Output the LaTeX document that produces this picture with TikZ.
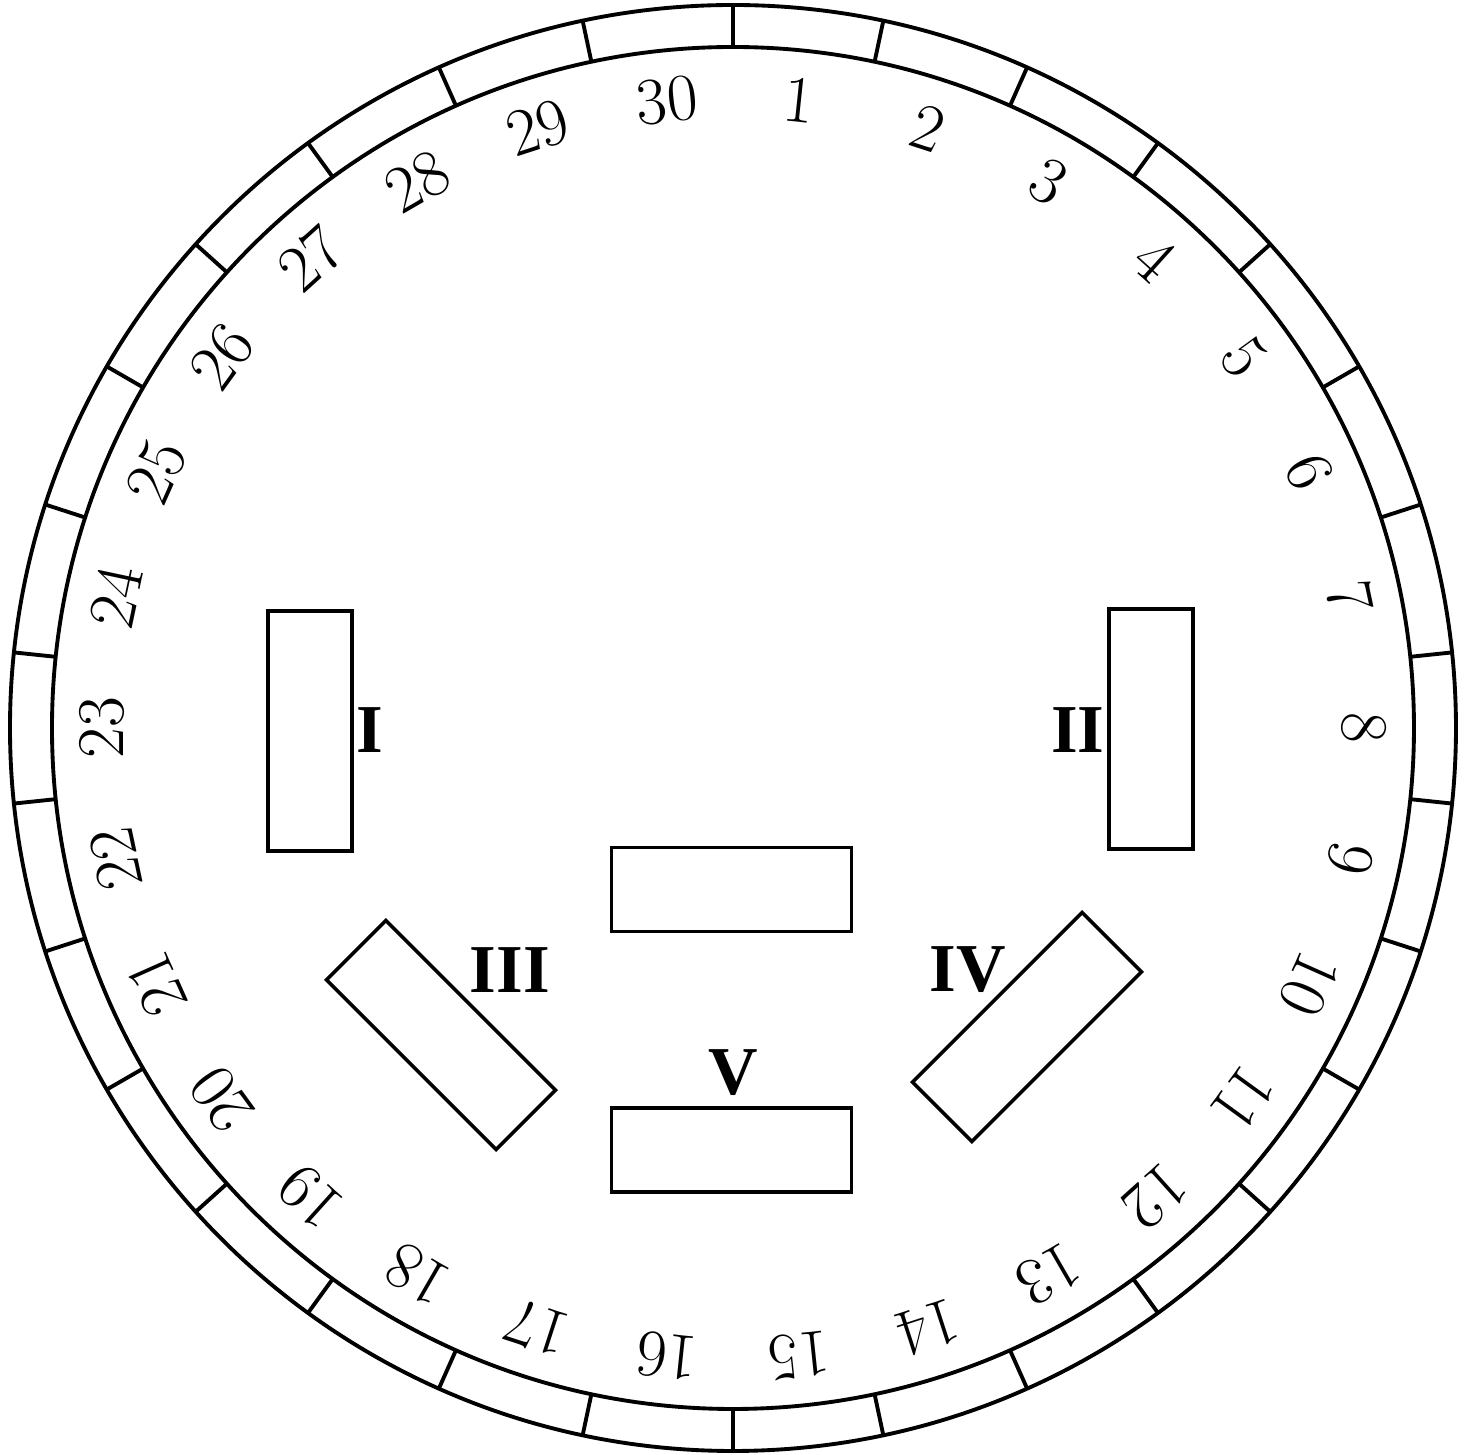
\documentclass[tikz,border=0pt]{standalone}
\usepackage{fontspec}
\newfontfamily\labelfont{Liberation Serif}
\usetikzlibrary{positioning}
\tikzset{
  coil/.style={draw,line width=1pt,minimum width=2.4cm,minimum height=0.84cm,inner sep=0pt},
  numlabel/.style={font=\fontsize{19}{22}\selectfont,inner sep=0pt},
  poslabel/.style={font=\labelfont\fontsize{19.5}{23}\selectfont\bfseries,inner sep=0pt}
}
\begin{document}
\begin{tikzpicture}
\useasboundingbox (-7.33,-7.27) rectangle (7.35,7.28);
\draw[line width=1.1pt] (0,0) circle (7.23);
\draw[line width=1.1pt] (0,0) circle (6.81);
% slot marks and numbers
\foreach \i in {1,...,30}{
  \draw[line width=1.1pt] ({90-12*(\i-1)}:6.81) -- ({90-12*(\i-1)}:7.23);
  \node[numlabel,rotate={-6-12*(\i-1)}] (n\i) at ({84-12*(\i-1)}:6.31) {\i};
}
% coils
\node[coil,rotate=90] (c1) at (-4.23,-0.03) {};
\node[coil,rotate=90] (c2) at (4.18,-0.01) {};
\node[coil] (c0) at (-0.015,-1.615) {};
\node[coil] (c5) at (-0.015,-4.22) {};
\node[coil,rotate=-45] (c3) at (-2.92,-3.07) {};
\node[coil,rotate=45] (c4) at (2.94,-2.99) {};
\node[poslabel] (l1) at (-3.63,-0.02) {I};
\node[poslabel] (l2) at (3.45,-0.02) {II};
\node[poslabel] (l3) at (-2.23,-2.42) {III};
\node[poslabel] (l4) at (2.35,-2.42) {IV};
\node[poslabel] (l5) at (0,-3.45) {V};
\end{tikzpicture}
\end{document}
